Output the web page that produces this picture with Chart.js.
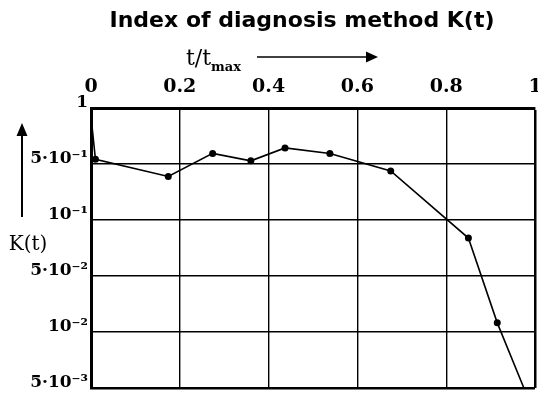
<!DOCTYPE html>
<html>
<head>
<meta charset="utf-8">
<title>Index of diagnosis method K(t)</title>
<script src="https://cdn.jsdelivr.net/npm/chart.js@4.4.1/dist/chart.umd.min.js"></script>
<style>
    html, body { margin: 0; padding: 0; background: #fff; }
    canvas { display: block; }
</style>
</head>
<body>
<canvas id="k-chart" width="538" height="394"></canvas>
<script>
// Relative time t/tmax of each measurement
const tRel = [0, 0.01, 0.174, 0.274, 0.36, 0.437, 0.538, 0.675, 0.85, 0.915, 0.975];
// Index value K(t) at each point
const kValues = [0.9, 0.53, 0.35, 0.57, 0.52, 0.61, 0.57, 0.41, 0.08, 0.013, 0.005];
// Markers are only drawn on the inner points
const markerRadius = [0, 3.5, 3.5, 3.5, 3.5, 3.5, 3.5, 3.5, 3.5, 3.5, 0];

// Grid values of the K axis (bottom to top), spaced evenly
const kGrid = [0.005, 0.01, 0.05, 0.1, 0.5, 1];
const kGridLabels = ['5·10⁻³', '10⁻²', '5·10⁻²', '10⁻¹', '5·10⁻¹', '1'];
const tTicks = [0, 0.2, 0.4, 0.6, 0.8, 1];

// K value -> position on the evenly spaced grid (log inside each step)
function kLevel(k) {
    for (let i = 0; i < kGrid.length - 1; i++) {
        if (k <= kGrid[i + 1]) {
            const a = Math.log(kGrid[i]), b = Math.log(kGrid[i + 1]);
            return i + (Math.log(k) - a) / (b - a);
        }
    }
    return kGrid.length - 1;
}

const serif = "'DejaVu Serif', serif";

// Title, axis captions and arrows
const captions = {
    id: 'captions',
    afterDraw(chart) {
        const ctx = chart.ctx;
        ctx.save();
        ctx.fillStyle = '#000';
        ctx.strokeStyle = '#000';

        ctx.font = "bold 22px 'DejaVu Sans', sans-serif";
        ctx.textAlign = 'center';
        ctx.textBaseline = 'alphabetic';
        ctx.fillText('Index of diagnosis method K(t)', 302, 27);

        // t/tmax with arrow to the right
        ctx.textAlign = 'left';
        ctx.font = '22px ' + serif;
        ctx.fillText('t/t', 186, 65);
        const w = ctx.measureText('t/t').width;
        ctx.font = 'bold 13px ' + serif;
        ctx.fillText('max', 186 + w, 71);
        ctx.lineWidth = 1.5;
        ctx.beginPath();
        ctx.moveTo(257, 57);
        ctx.lineTo(368, 57);
        ctx.stroke();
        ctx.beginPath();
        ctx.moveTo(366, 51.5);
        ctx.lineTo(378, 57);
        ctx.lineTo(366, 62.5);
        ctx.closePath();
        ctx.fill();

        // K(t) with arrow upwards
        ctx.font = '20px ' + serif;
        ctx.textAlign = 'center';
        ctx.fillText('K(t)', 28, 250);
        ctx.lineWidth = 2;
        ctx.beginPath();
        ctx.moveTo(22, 217);
        ctx.lineTo(22, 132);
        ctx.stroke();
        ctx.beginPath();
        ctx.moveTo(16.5, 136);
        ctx.lineTo(22, 123);
        ctx.lineTo(27.5, 136);
        ctx.closePath();
        ctx.fill();
        ctx.restore();
    }
};

new Chart(document.getElementById('k-chart'), {
    type: 'line',
    data: {
        datasets: [{
            data: tRel.map((t, i) => ({ x: t, y: kLevel(kValues[i]) })),
            borderColor: '#000',
            borderWidth: 1.6,
            backgroundColor: '#000',
            pointRadius: markerRadius,
            pointBorderWidth: 0,
            tension: 0,
            fill: false
        }]
    },
    options: {
        responsive: false,
        animation: false,
        layout: { padding: { top: 0, right: 3, bottom: 6, left: 0 } },
        plugins: {
            legend: { display: false },
            tooltip: { enabled: false }
        },
        scales: {
            x: {
                type: 'linear',
                position: 'top',
                min: 0,
                max: 1,
                afterBuildTicks: scale => { scale.ticks = tTicks.map(v => ({ value: v })); },
                afterFit: scale => {
                    scale.height = 108;
                    scale.paddingLeft = 0;
                    scale.paddingRight = 0;
                },
                ticks: {
                    color: '#000',
                    font: { family: serif, size: 19, weight: 'bold' },
                    padding: 10,
                    maxRotation: 0,
                    callback: v => (v === 0 || v === 1) ? String(v) : v.toFixed(1)
                },
                grid: {
                    color: '#000',
                    lineWidth: c => (c.tick && c.tick.value === 1) ? 2.5 : 1.4,
                    drawTicks: false
                },
                border: { color: '#000', width: 3 }
            },
            y: {
                type: 'linear',
                min: 0,
                max: kGrid.length - 1,
                afterBuildTicks: scale => { scale.ticks = kGrid.map((_, i) => ({ value: i })); },
                afterFit: scale => {
                    scale.width = 91;
                    scale.paddingTop = 0;
                    scale.paddingBottom = 0;
                },
                ticks: {
                    color: '#000',
                    font: { family: serif, size: 17, weight: 'bold' },
                    padding: 3,
                    labelOffset: -5,
                    callback: v => kGridLabels[v]
                },
                grid: {
                    color: '#000',
                    lineWidth: c => (c.tick && c.tick.value === 0) ? 2.5 : 1.4,
                    drawTicks: false
                },
                border: { color: '#000', width: 3 }
            }
        }
    },
    plugins: [captions]
});
</script>
</body>
</html>
